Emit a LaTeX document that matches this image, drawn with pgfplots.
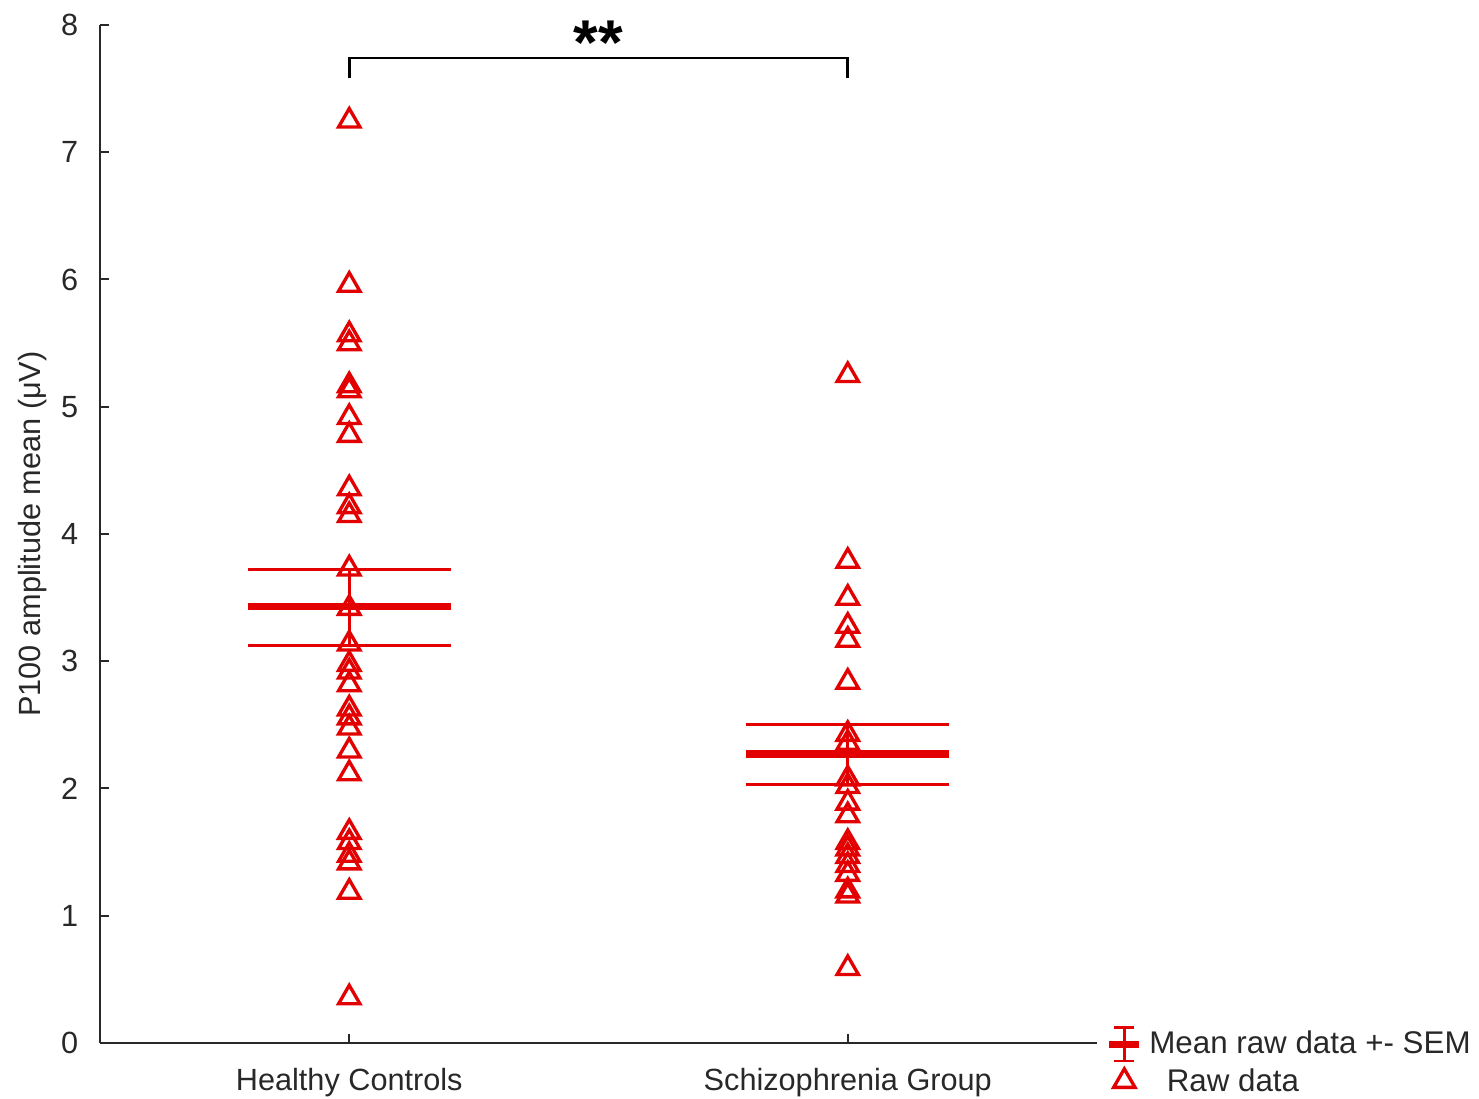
\documentclass[border=0pt]{standalone}
\usepackage{pgfplots}
\pgfplotsset{compat=1.18}
\usepackage{fontspec}
\setmainfont{Liberation Sans}
\setsansfont{Liberation Sans}
\definecolor{myred}{RGB}{226,0,0}
\definecolor{axgray}{RGB}{40,40,40}
\begin{document}
\begin{tikzpicture}
\begin{axis}[
  name=ax,
  scale only axis,
  width=299.1pt, height=305.4pt,
  xmin=0.5, xmax=2.5, ymin=0, ymax=8,
  axis x line*=bottom, axis y line*=left,
  axis line style={-, axgray, line width=0.6pt},
  tick style={axgray, line width=0.6pt},
  tick align=inside,
  major tick length=2.6pt,
  xtick={1,2}, xticklabels={Healthy Controls, Schizophrenia Group},
  ytick={0,1,2,3,4,5,6,7,8},
  /pgf/number format/assume math mode=true,
  ticklabel style={font=\fontsize{9.2}{11}\selectfont, text=axgray},
  xticklabel style={yshift=-4pt},
  yticklabel style={xshift=-3pt},
  ylabel={P100 amplitude mean (μV)},
  ylabel style={font=\fontsize{9.2}{11}\selectfont, text=axgray, yshift=-2.5pt},
  clip=false,
  legend style={at={(rel axis cs:1.005,0.0226)}, anchor=north west, draw=none, fill=none,
    font=\fontsize{9.4}{11}\selectfont, text=axgray, row sep=-1pt, inner sep=1pt,
    /tikz/every even column/.append style={column sep=1pt}},
  legend cell align=left,
]
% mean and SEM lines
\addplot[myred, line width=2.2pt, forget plot] coordinates {(0.796,3.43) (1.204,3.43)};
\addplot[myred, line width=0.9pt, forget plot] coordinates {(0.796,3.72) (1.204,3.72)};
\addplot[myred, line width=0.9pt, forget plot] coordinates {(0.796,3.12) (1.204,3.12)};
\addplot[myred, line width=0.9pt, forget plot] coordinates {(1,3.12) (1,3.72)};
\addplot[myred, line width=2.2pt, forget plot] coordinates {(1.796,2.27) (2.204,2.27)};
\addplot[myred, line width=0.9pt, forget plot] coordinates {(1.796,2.50) (2.204,2.50)};
\addplot[myred, line width=0.9pt, forget plot] coordinates {(1.796,2.03) (2.204,2.03)};
\addplot[myred, line width=0.9pt, forget plot] coordinates {(2,2.03) (2,2.50)};
% legend entries
\addlegendimage{legend image code/.code={
  \draw[myred, line width=2pt] (0pt,0pt) -- (9pt,0pt);
  \draw[myred, line width=0.8pt] (4.5pt,-5pt) -- (4.5pt,5pt);
  \draw[myred, line width=0.8pt] (1.5pt,-5pt) -- (7.5pt,-5pt);
  \draw[myred, line width=0.8pt] (1.5pt,5pt) -- (7.5pt,5pt);
}}
\addlegendentry{Mean raw data +- SEM}
% raw data
\addplot[only marks, mark=triangle, mark size=3.7pt, myred, mark options={line width=1pt, fill=none, yshift=-0.9pt},
  legend image code/.code={\draw[myred, line width=1pt, fill=none] plot coordinates {(4.5pt,1.2pt)};}] coordinates {
(1,7.27) (1,5.98) (1,5.59) (1,5.52) (1,5.19) (1,5.15) (1,4.94) (1,4.80) (1,4.38) (1,4.24) (1,4.17)
(1,3.75) (1,3.44) (1,3.16) (1,3.00) (1,2.94) (1,2.84) (1,2.65) (1,2.58) (1,2.50) (1,2.32) (1,2.14)
(1,1.68) (1,1.60) (1,1.50) (1,1.44) (1,1.21) (1,0.38)
(2,5.27) (2,3.81) (2,3.52) (2,3.30) (2,3.19) (2,2.86) (2,2.45) (2,2.38) (2,2.10) (2,2.04) (2,1.91)
(2,1.81) (2,1.60) (2,1.55) (2,1.49) (2,1.42) (2,1.35) (2,1.22) (2,1.18) (2,0.61)
};
\addlegendentry{\ \ Raw data}
% significance bracket
\draw[black, line width=0.8pt] (axis cs:1,7.58) -- (axis cs:1,7.74) -- (axis cs:2,7.74) -- (axis cs:2,7.58);
\node[font=\bfseries\fontsize{19}{19}\selectfont] at (axis cs:1.5,7.86) {**};
\end{axis}
\pgfresetboundingbox
\path ([shift={(-30pt,-16.8pt)}]ax.south west) rectangle ([shift={(114.6pt,7.5pt)}]ax.north east);
\end{tikzpicture}
\end{document}
